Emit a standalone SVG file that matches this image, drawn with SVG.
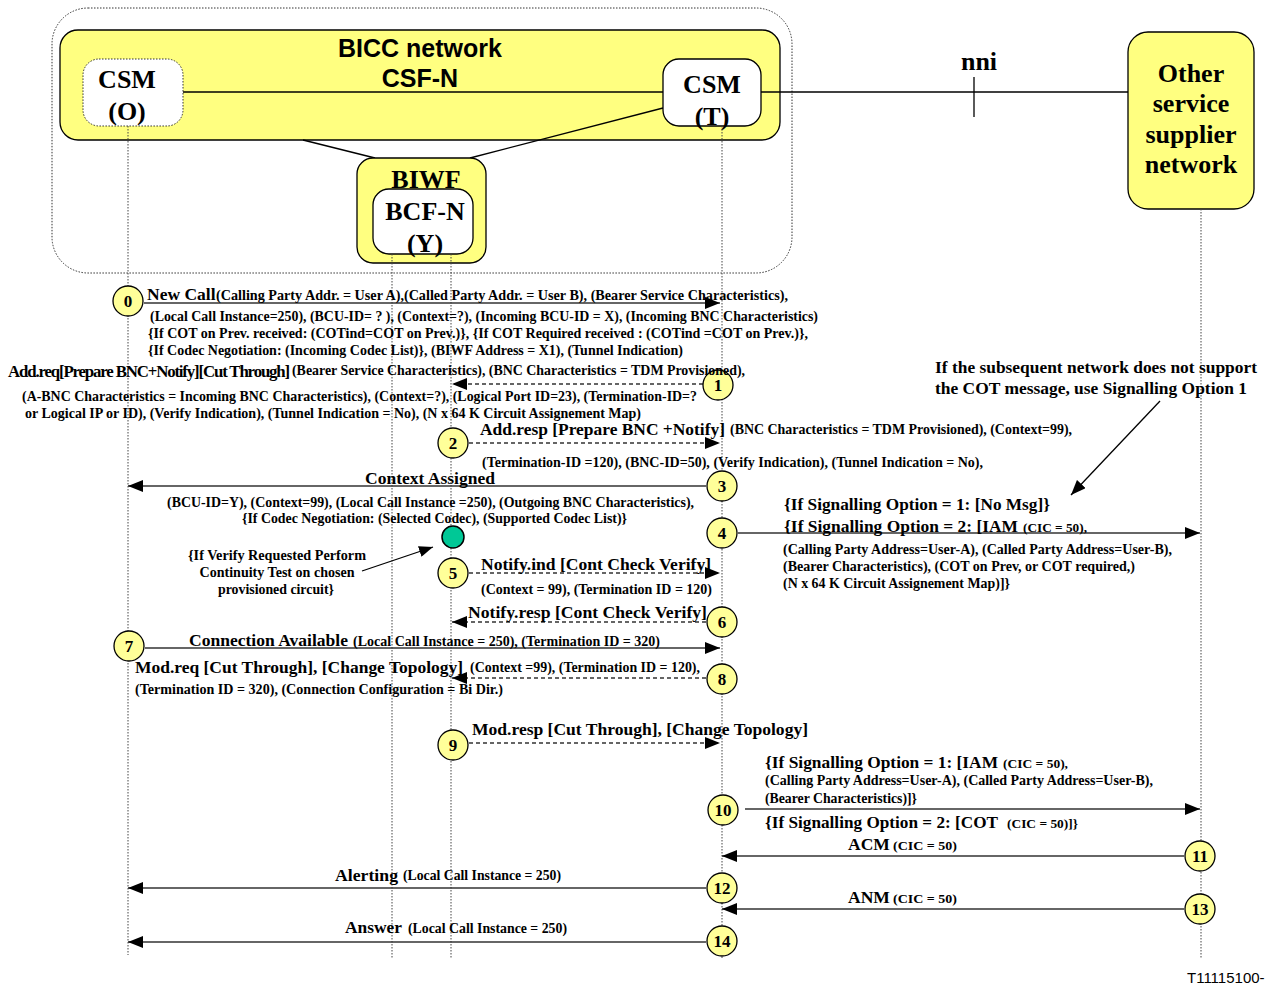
<svg xmlns="http://www.w3.org/2000/svg" width="1267" height="987" viewBox="0 0 1267 987">
<defs>
<marker id="ah" markerUnits="userSpaceOnUse" markerWidth="15" markerHeight="12" refX="15" refY="6" orient="auto">
<path d="M0,0 L15,6 L0,12 z" fill="#000"/>
</marker>
<marker id="ahs" markerUnits="userSpaceOnUse" markerWidth="14" markerHeight="11" refX="14" refY="5.5" orient="auto">
<path d="M0,0 L14,5.5 L0,11 z" fill="#000"/>
</marker>
</defs>
<style>
text{font-family:"Liberation Serif","Times New Roman",serif;font-weight:bold;fill:#000}
.sans{font-family:"Liberation Sans",Arial,sans-serif}
.hdr{font-size:26px}
.big{font-size:17.5px}
.sm{font-size:14px}
.xs{font-size:13px}
.num{font-size:17px;text-anchor:middle}
.code{font-family:"Liberation Sans",Arial,sans-serif;font-weight:normal;font-size:15px}
.yel{fill:#FFFF80;stroke:#000;stroke-width:1.3}
.wht{fill:#fff;stroke:#000;stroke-width:1.3}
.dot{fill:none;stroke:#333;stroke-width:1;stroke-dasharray:1.5,1.5}
.life{stroke:#444;stroke-width:1;stroke-dasharray:1.5,1.5;fill:none}
.msg{stroke:#333;stroke-width:1.6;fill:none}
.dsh{stroke:#333;stroke-width:1.4;fill:none;stroke-dasharray:4,3}
.thin{stroke:#000;stroke-width:1.3;fill:none}
.step{fill:#FFFF99;stroke:#000;stroke-width:1.3}
</style>
<rect width="1267" height="987" fill="#fff"/>

<g id="domain">
<rect x="52" y="8" width="740" height="265" rx="36" ry="36" class="dot"/>
</g>

<g id="bicc-network">
<rect x="60" y="30" width="720" height="110" rx="18" ry="18" class="yel"/>
<text class="sans" x="420" y="57" text-anchor="middle" font-size="25">BICC network</text>
<text class="sans" x="420" y="87" text-anchor="middle" font-size="25">CSF-N</text>
</g>

<g id="links">
<line x1="183" y1="92" x2="663" y2="92" class="thin"/>
<line x1="761" y1="92" x2="1128" y2="92" class="thin"/>
<line x1="974" y1="77" x2="974" y2="117" class="thin"/>
<line x1="303" y1="140" x2="375" y2="158" class="thin"/>
<line x1="663" y1="108" x2="470" y2="158" class="thin"/>
</g>

<g id="csm-o">
<rect x="83" y="59" width="100" height="67" rx="16" ry="16" fill="#fff" stroke="#333" stroke-width="1" stroke-dasharray="1.5,1.5"/>
<text class="hdr" x="127" y="88" text-anchor="middle">CSM</text>
<text class="hdr" x="127" y="120" text-anchor="middle">(O)</text>
</g>

<g id="csm-t">
<rect x="663" y="59" width="98" height="67" rx="16" ry="16" class="wht"/>
<text class="hdr" x="712" y="93" text-anchor="middle">CSM</text>
<text class="hdr" x="712" y="125" text-anchor="middle">(T)</text>
</g>

<g id="biwf">
<rect x="357" y="158" width="129" height="105" rx="16" ry="16" class="yel"/>
<g id="bcf-n">
<rect x="373" y="189" width="100" height="65" rx="16" ry="16" class="wht"/>
<text class="hdr" x="425" y="220" text-anchor="middle">BCF-N</text>
<text class="hdr" x="425" y="252" text-anchor="middle">(Y)</text>
</g>
<text class="hdr" x="426" y="188" text-anchor="middle" font-size="28">BIWF</text>
</g>

<g id="nni">
<text class="hdr" x="979" y="70" text-anchor="middle">nni</text>
</g>

<g id="other-network">
<rect x="1128" y="32" width="126" height="177" rx="20" ry="20" class="yel"/>
<text class="hdr" x="1191" y="82" text-anchor="middle">Other</text>
<text class="hdr" x="1191" y="112" text-anchor="middle">service</text>
<text class="hdr" x="1191" y="143" text-anchor="middle">supplier</text>
<text class="hdr" x="1191" y="173" text-anchor="middle">network</text>
</g>

<g id="lifelines">
<line x1="128" y1="126" x2="128" y2="955" class="life"/>
<line x1="392" y1="254" x2="392" y2="958" class="life"/>
<line x1="451" y1="254" x2="451" y2="958" class="life"/>
<line x1="722" y1="126" x2="722" y2="958" class="life"/>
<line x1="1201" y1="209" x2="1201" y2="958" class="life"/>
</g>

<g id="connectors">
<line x1="144" y1="303" x2="720" y2="303" class="msg" marker-end="url(#ah)"/>
<line x1="703" y1="384" x2="452" y2="384" class="dsh" marker-end="url(#ah)"/>
<line x1="469" y1="443" x2="720" y2="443" class="dsh" marker-end="url(#ah)"/>
<line x1="706" y1="486" x2="128" y2="486" class="msg" marker-end="url(#ah)"/>
<line x1="738" y1="533" x2="1200" y2="533" class="msg" marker-end="url(#ah)"/>
<line x1="469" y1="573" x2="720" y2="573" class="dsh" marker-end="url(#ah)"/>
<line x1="706" y1="622" x2="452" y2="622" class="dsh" marker-end="url(#ah)"/>
<line x1="145" y1="648" x2="720" y2="648" class="msg" marker-end="url(#ah)"/>
<line x1="706" y1="678" x2="452" y2="678" class="dsh" marker-end="url(#ah)"/>
<line x1="469" y1="743" x2="720" y2="743" class="dsh" marker-end="url(#ah)"/>
<line x1="745" y1="809" x2="1200" y2="809" class="msg" marker-end="url(#ah)"/>
<line x1="1184" y1="856" x2="722" y2="856" class="msg" marker-end="url(#ah)"/>
<line x1="706" y1="888" x2="128" y2="888" class="msg" marker-end="url(#ah)"/>
<line x1="1184" y1="909" x2="722" y2="909" class="msg" marker-end="url(#ah)"/>
<line x1="706" y1="942" x2="128" y2="942" class="msg" marker-end="url(#ah)"/>
<line x1="1160" y1="401" x2="1071" y2="495" class="thin" stroke-width="1.6" marker-end="url(#ah)"/>
<line x1="362" y1="571" x2="433" y2="547" class="thin" marker-end="url(#ahs)"/>
</g>

<g id="steps">
<circle cx="128" cy="301" r="15" class="step"/><text class="num" x="128" y="307">0</text>
<circle cx="718" cy="385" r="15" class="step"/><text class="num" x="718" y="391">1</text>
<circle cx="453" cy="443" r="15" class="step"/><text class="num" x="453" y="449">2</text>
<circle cx="722" cy="486" r="15" class="step"/><text class="num" x="722" y="492">3</text>
<circle cx="722" cy="533" r="15" class="step"/><text class="num" x="722" y="539">4</text>
<circle cx="453" cy="573" r="15" class="step"/><text class="num" x="453" y="579">5</text>
<circle cx="722" cy="622" r="15" class="step"/><text class="num" x="722" y="628">6</text>
<circle cx="129" cy="646" r="15" class="step"/><text class="num" x="129" y="652">7</text>
<circle cx="722" cy="679" r="15" class="step"/><text class="num" x="722" y="685">8</text>
<circle cx="453" cy="745" r="15" class="step"/><text class="num" x="453" y="751">9</text>
<circle cx="723" cy="810" r="15" class="step"/><text class="num" x="723" y="816">10</text>
<circle cx="1200" cy="856" r="15" class="step"/><text class="num" x="1200" y="862">11</text>
<circle cx="722" cy="888" r="15" class="step"/><text class="num" x="722" y="894">12</text>
<circle cx="1200" cy="909" r="15" class="step"/><text class="num" x="1200" y="915">13</text>
<circle cx="722" cy="941" r="15" class="step"/><text class="num" x="722" y="947">14</text>
<circle cx="453" cy="537" r="11" fill="#00C896" stroke="#000" stroke-width="1.5"/>
</g>

<g id="labels">
<text class="big" x="147" y="300">New Call</text>
<text class="sm" x="216" y="300" textLength="572" lengthAdjust="spacingAndGlyphs">(Calling Party Addr. = User A),(Called Party Addr. = User B), (Bearer Service Characteristics),</text>
<text class="sm" x="150" y="321" textLength="668" lengthAdjust="spacingAndGlyphs">(Local Call Instance=250), (BCU-ID= ? ), (Context=?), (Incoming BCU-ID = X), (Incoming BNC Characteristics)</text>
<text class="sm" x="148" y="338" textLength="660" lengthAdjust="spacingAndGlyphs">{If COT on Prev. received: (COTind=COT on Prev.)}, {If COT Required received : (COTind =COT on Prev.)},</text>
<text class="sm" x="148" y="355" textLength="535" lengthAdjust="spacingAndGlyphs">{If Codec Negotiation: (Incoming Codec List)}, (BIWF Address = X1), (Tunnel Indication)</text>
<text class="big" x="8" y="377" letter-spacing="-1.2" textLength="281" lengthAdjust="spacingAndGlyphs">Add.req[Prepare BNC+Notify][Cut Through]</text>
<text class="sm" x="292" y="375" textLength="453" lengthAdjust="spacingAndGlyphs">(Bearer Service Characteristics), (BNC Characteristics = TDM Provisioned),</text>
<text class="sm" x="22" y="401" textLength="675" lengthAdjust="spacingAndGlyphs">(A-BNC Characteristics = Incoming BNC Characteristics), (Context=?), (Logical Port ID=23), (Termination-ID=?</text>
<text class="sm" x="25" y="418" textLength="616" lengthAdjust="spacingAndGlyphs">or Logical IP or ID), (Verify Indication), (Tunnel Indication = No), (N x 64 K Circuit Assignement Map)</text>

<text class="big" x="480" y="435" textLength="245" lengthAdjust="spacingAndGlyphs">Add.resp [Prepare BNC +Notify]</text>
<text class="sm" x="730" y="434" textLength="342" lengthAdjust="spacingAndGlyphs">(BNC Characteristics = TDM Provisioned), (Context=99),</text>
<text class="sm" x="482" y="467" textLength="501" lengthAdjust="spacingAndGlyphs">(Termination-ID =120), (BNC-ID=50), (Verify Indication), (Tunnel Indication = No),</text>

<text class="big" x="365" y="484" textLength="130" lengthAdjust="spacingAndGlyphs">Context Assigned</text>
<text class="sm" x="167" y="507" textLength="527" lengthAdjust="spacingAndGlyphs">(BCU-ID=Y), (Context=99), (Local Call Instance =250), (Outgoing BNC Characteristics),</text>
<text class="sm" x="242" y="523" textLength="385" lengthAdjust="spacingAndGlyphs">{If Codec Negotiation: (Selected Codec), (Supported Codec List)}</text>

<text class="sm" x="277" y="560" text-anchor="middle" textLength="178" lengthAdjust="spacingAndGlyphs">{If Verify Requested  Perform</text>
<text class="sm" x="277" y="577" text-anchor="middle" textLength="155" lengthAdjust="spacingAndGlyphs">Continuity Test on chosen</text>
<text class="sm" x="276" y="594" text-anchor="middle" textLength="116" lengthAdjust="spacingAndGlyphs">provisioned circuit}</text>

<text class="big" x="935" y="373" textLength="322" lengthAdjust="spacingAndGlyphs">If the subsequent network does not support</text>
<text class="big" x="935" y="394" textLength="312" lengthAdjust="spacingAndGlyphs">the COT message, use Signalling Option 1</text>

<text class="big" x="784" y="510" textLength="266" lengthAdjust="spacingAndGlyphs">{If Signalling Option = 1: [No Msg]}</text>
<text class="big" x="784" y="532" textLength="234" lengthAdjust="spacingAndGlyphs">{If Signalling Option = 2: [IAM</text>
<text class="xs" x="1023" y="532" textLength="64" lengthAdjust="spacingAndGlyphs">(CIC = 50),</text>
<text class="sm" x="783" y="554" textLength="389" lengthAdjust="spacingAndGlyphs">(Calling Party Address=User-A), (Called Party Address=User-B),</text>
<text class="sm" x="783" y="571" textLength="352" lengthAdjust="spacingAndGlyphs">(Bearer Characteristics), (COT on Prev, or COT required,)</text>
<text class="sm" x="783" y="588" textLength="227" lengthAdjust="spacingAndGlyphs">(N x 64 K Circuit Assignement Map)]}</text>

<text class="big" x="481" y="570" textLength="230" lengthAdjust="spacingAndGlyphs">Notify.ind [Cont Check Verify]</text>
<text class="sm" x="481" y="594" textLength="231" lengthAdjust="spacingAndGlyphs">(Context = 99), (Termination ID = 120)</text>
<text class="big" x="468" y="618" textLength="239" lengthAdjust="spacingAndGlyphs">Notify.resp [Cont Check Verify]</text>

<text class="big" x="189" y="646" textLength="159" lengthAdjust="spacingAndGlyphs">Connection Available</text>
<text class="sm" x="353" y="646" textLength="307" lengthAdjust="spacingAndGlyphs">(Local Call Instance = 250), (Termination ID = 320)</text>

<text class="big" x="135" y="673" textLength="328" lengthAdjust="spacingAndGlyphs">Mod.req [Cut Through], [Change Topology]</text>
<text class="sm" x="470" y="672" textLength="230" lengthAdjust="spacingAndGlyphs">(Context =99), (Termination ID = 120),</text>
<text class="sm" x="135" y="694" textLength="368" lengthAdjust="spacingAndGlyphs">(Termination ID = 320), (Connection Configuration = Bi Dir.)</text>

<text class="big" x="472" y="735" textLength="336" lengthAdjust="spacingAndGlyphs">Mod.resp [Cut Through], [Change Topology]</text>

<text class="big" x="765" y="768" textLength="233" lengthAdjust="spacingAndGlyphs">{If Signalling Option = 1: [IAM</text>
<text class="xs" x="1003" y="768" textLength="65" lengthAdjust="spacingAndGlyphs">(CIC = 50),</text>
<text class="sm" x="765" y="785" textLength="388" lengthAdjust="spacingAndGlyphs">(Calling Party Address=User-A), (Called Party Address=User-B),</text>
<text class="sm" x="765" y="803" textLength="152" lengthAdjust="spacingAndGlyphs">(Bearer Characteristics)]}</text>
<text class="big" x="765" y="828" textLength="233" lengthAdjust="spacingAndGlyphs">{If Signalling Option = 2: [COT</text>
<text class="xs" x="1007" y="828" textLength="71" lengthAdjust="spacingAndGlyphs">(CIC = 50)]}</text>

<text class="big" x="848" y="850">ACM</text>
<text class="xs" x="893" y="850" textLength="64" lengthAdjust="spacingAndGlyphs">(CIC = 50)</text>
<text class="big" x="335" y="881" textLength="63" lengthAdjust="spacingAndGlyphs">Alerting</text>
<text class="sm" x="403" y="880" textLength="158" lengthAdjust="spacingAndGlyphs">(Local Call Instance = 250)</text>
<text class="big" x="848" y="903">ANM</text>
<text class="xs" x="893" y="903" textLength="64" lengthAdjust="spacingAndGlyphs">(CIC = 50)</text>
<text class="big" x="345" y="933" textLength="57" lengthAdjust="spacingAndGlyphs">Answer</text>
<text class="sm" x="408" y="933" textLength="159" lengthAdjust="spacingAndGlyphs">(Local Call Instance = 250)</text>

<text class="code" x="1187" y="983">T11115100-</text>
</g>
</svg>
